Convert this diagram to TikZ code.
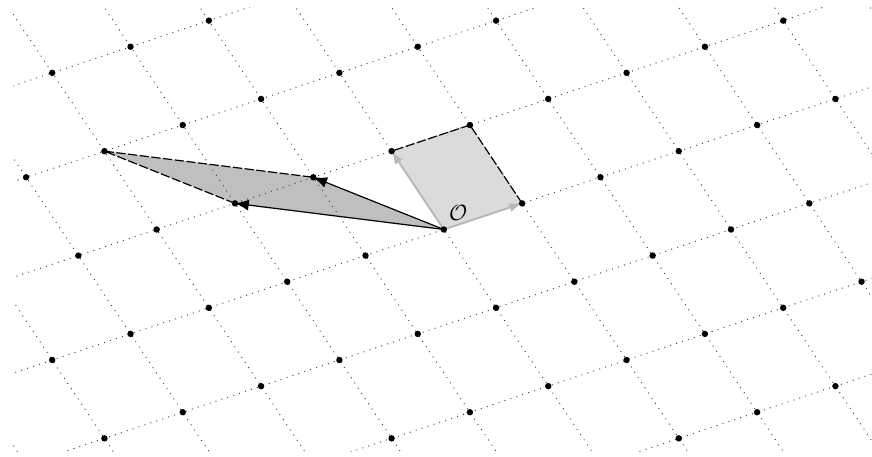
\documentclass[tikz,border=0pt]{standalone}
\usetikzlibrary{arrows.meta}
\begin{document}
\begin{tikzpicture}[x=0.5cm,y=0.5cm,
  gridline/.style={black!80, line width=0.7pt, line cap=round, dash pattern=on 0pt off 3.4pt},
  goodfill/.style={fill=black!14},
  badfill/.style={fill=black!25},
  edgeline/.style={black, line width=0.65pt, dash pattern=on 5pt off 1.4pt},
  goodvec/.style={black!28, line width=1.1pt, -{Latex[length=7pt,width=5pt]}},
  badvec/.style={black, line width=0.65pt, -{Latex[length=7.5pt,width=6pt]}}]
\useasboundingbox (-17,-8.71) rectangle (16.4,8.79);
\coordinate (O) at (0,0);
\coordinate (b1) at (3,1);
\coordinate (b2) at (-2,3);
\coordinate (b12) at (1,4);
\coordinate (v1) at (-8,1);
\coordinate (v2) at (-5,2);
\coordinate (v12) at (-13,3);
\fill[badfill] (O) -- (v1) -- (v12) -- (v2) -- cycle;
\fill[goodfill] (O) -- (b1) -- (b12) -- (b2) -- cycle;
\begin{scope}
\clip (-16.5,-8.5) rectangle (16.5,8.5);
\foreach \c in {-5,...,5}
  \draw[gridline] ({-2*\c-30},{3*\c-10}) -- ({-2*\c+30},{3*\c+10});
\foreach \a in {-7,...,7}
  \draw[gridline] ({3*\a+12},{\a-18}) -- ({3*\a-12},{\a+18});
\draw[edgeline] (v1) -- (v12) -- (v2);
\draw[edgeline] (b1) -- (b12) -- (b2);
\draw[badvec] (O) -- (v1);
\draw[badvec] (O) -- (v2);
\draw[goodvec] (O) -- (b1);
\draw[goodvec] (O) -- (b2);
\foreach \a in {-8,...,8}
  \foreach \c in {-6,...,6}
    \fill ({3*\a-2*\c},{\a+3*\c}) circle (1.75pt);
\end{scope}
\node[scale=1.2] (lab) at (0.55,0.62) {$\mathcal{O}$};
\end{tikzpicture}
\end{document}
